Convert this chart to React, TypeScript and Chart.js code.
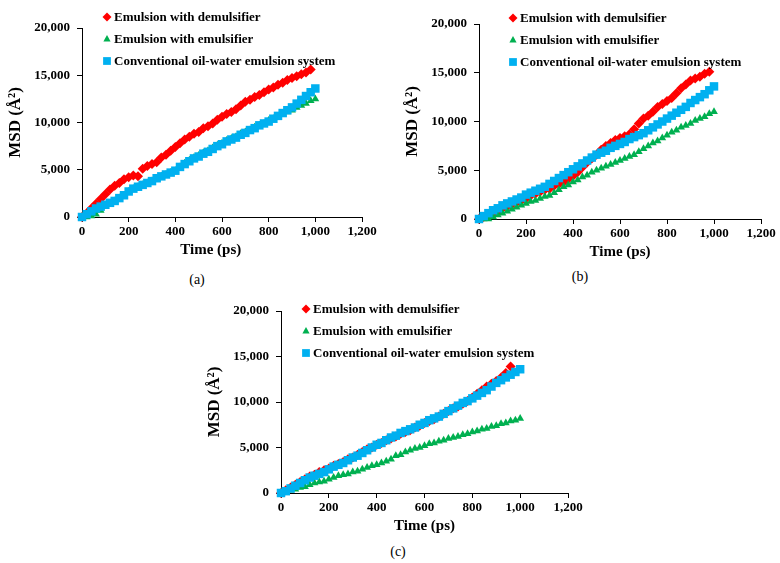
import React, { useEffect, useRef } from "react";
import { Chart, registerables } from "chart.js";

Chart.register(...registerables);

const TIME = [0, 20, 40, 60, 80, 100, 120, 140, 160, 180, 200, 220, 240, 260, 280, 300, 320, 340, 360, 380, 400, 420, 440, 460, 480, 500, 520, 540, 560, 580, 600, 620, 640, 660, 680, 700, 720, 740, 760, 780, 800, 820, 840, 860, 880, 900, 920, 940, 960, 980, 1000];

const SERIES_NAMES = ["Emulsion with demulsifier", "Emulsion with emulsifier", "Conventional oil-water emulsion system"];
const PANEL_LABELS = ["(a)", "(b)", "(c)"];
const X_TICKS = [0, 200, 400, 600, 800, 1000, 1200];
const Y_TICKS = [0, 5000, 10000, 15000, 20000];
const X_TITLE = "Time (ps)";
const Y_TITLE = "MSD (Å²)";

// Panel (a)
const A_DEMULSIFIER = [0, 400, 900, 1400, 1900, 2400, 2900, 3300, 3600, 4000, 4200, 4400, 4300, 5100, 5400, 5600, 5800, 6300, 6600, 7000, 7400, 7800, 8200, 8500, 8800, 9000, 9400, 9600, 9900, 10300, 10600, 10900, 11100, 11400, 11800, 12200, 12400, 12700, 12900, 13200, 13500, 13700, 14000, 14200, 14500, 14700, 14900, 15100, 15300, 15600];
const A_EMULSIFIER = [0, 0, 100, 300, 700, 1100, 1400, 1700, 2000, 2300, 2700, 3000, 3200, 3400, 3600, 3800, 4100, 4300, 4500, 4700, 4900, 5300, 5700, 6000, 6300, 6500, 6800, 7000, 7300, 7600, 7800, 8100, 8300, 8500, 8800, 9000, 9200, 9500, 9700, 9900, 10200, 10400, 10600, 10900, 11100, 11300, 11600, 11800, 12000, 12300, 12500];
const A_CONVENTIONAL = [0, 300, 600, 900, 1100, 1300, 1500, 1700, 2000, 2300, 2700, 3000, 3200, 3400, 3600, 3800, 4100, 4300, 4500, 4700, 4900, 5300, 5600, 5900, 6200, 6400, 6700, 6900, 7200, 7500, 7700, 8000, 8200, 8400, 8700, 8900, 9200, 9400, 9700, 9900, 10100, 10400, 10700, 11000, 11300, 11600, 12000, 12400, 12800, 13200, 13600];

// Panel (b)
const B_DEMULSIFIER = [0, 200, 400, 600, 800, 1100, 1300, 1500, 1700, 1900, 2100, 2400, 2600, 2800, 3000, 3100, 3400, 3600, 3800, 4100, 4400, 4800, 5300, 5800, 6200, 6600, 7100, 7500, 7800, 8100, 8300, 8500, 8700, 9200, 9800, 10300, 10600, 11000, 11500, 11800, 12100, 12400, 12900, 13400, 13800, 14200, 14400, 14600, 14900, 15100];
const B_EMULSIFIER = [0, 0, 0, 200, 400, 600, 800, 1000, 1200, 1400, 1600, 1800, 1900, 2100, 2300, 2400, 2700, 3000, 3300, 3500, 3800, 4000, 4300, 4500, 4800, 5000, 5200, 5400, 5600, 5800, 6000, 6200, 6400, 6600, 6900, 7200, 7500, 7800, 8000, 8300, 8600, 8900, 9100, 9400, 9600, 9800, 10100, 10300, 10500, 10800, 11000];
const B_CONVENTIONAL = [0, 300, 600, 900, 1100, 1400, 1600, 1800, 2000, 2200, 2500, 2700, 2900, 3100, 3300, 3600, 3900, 4200, 4500, 4800, 5100, 5400, 5700, 6000, 6300, 6600, 6800, 7000, 7300, 7500, 7700, 7900, 8200, 8400, 8600, 8800, 9100, 9400, 9700, 10000, 10300, 10600, 10900, 11200, 11500, 11900, 12200, 12500, 12800, 13200, 13600];

// Panel (c)
const C_DEMULSIFIER = [0, 300, 600, 900, 1200, 1500, 1800, 2000, 2300, 2500, 2700, 3000, 3200, 3400, 3700, 3900, 4200, 4500, 4800, 5000, 5300, 5500, 5800, 6000, 6200, 6500, 6700, 6900, 7200, 7400, 7700, 7900, 8100, 8400, 8700, 9000, 9300, 9500, 9800, 10100, 10500, 10900, 11300, 11700, 12000, 12300, 12700, 13200, 13900];
const C_EMULSIFIER = [0, 100, 300, 400, 600, 700, 900, 1100, 1200, 1300, 1500, 1700, 1900, 2000, 2100, 2300, 2400, 2600, 2800, 3000, 3100, 3300, 3500, 3700, 4100, 4200, 4500, 4700, 4900, 5000, 5200, 5400, 5500, 5700, 5800, 6000, 6100, 6200, 6400, 6500, 6700, 6800, 7000, 7100, 7300, 7400, 7600, 7700, 7900, 8000, 8200];
const C_CONVENTIONAL = [0, 200, 500, 800, 1100, 1400, 1700, 1900, 2100, 2300, 2600, 2900, 3100, 3300, 3600, 3900, 4100, 4400, 4700, 5000, 5300, 5500, 5800, 6100, 6300, 6600, 6800, 7000, 7200, 7500, 7700, 8000, 8200, 8400, 8700, 9000, 9300, 9600, 9900, 10100, 10400, 10700, 11000, 11300, 11700, 12100, 12400, 12700, 13000, 13300, 13600];

const COLORS = ["#FF0000", "#00B050", "#00B0F0"];
const SHAPES = ["rectRot", "triangle", "rect"];
const RADII = [5, 4.5, 6];

const FONT = '"Liberation Serif", "Times New Roman", serif';

type Panel = {
  data: number[][];
  label: string;
  left: number;
  top: number;
  width: number;
  height: number;
  padLeft: number;
  padTop: number;
  padRight: number;
  legendX: number;
  legendY: number;
  labelX: number;
  labelY: number;
  xTitlePad: number;
};

const PANELS: Panel[] = [
  { data: [A_DEMULSIFIER, A_EMULSIFIER, A_CONVENTIONAL], label: PANEL_LABELS[0], left: 0, top: 0, width: 390, height: 265, padLeft: 0, padTop: 28, padRight: 28, legendX: 107, legendY: 17, labelX: 197, labelY: 280, xTitlePad: 6 },
  { data: [B_DEMULSIFIER, B_EMULSIFIER, B_CONVENTIONAL], label: PANEL_LABELS[1], left: 390, top: 0, width: 390, height: 267, padLeft: 7, padTop: 24, padRight: 19, legendX: 123, legendY: 18, labelX: 580, labelY: 277, xTitlePad: 0 },
  { data: [C_DEMULSIFIER, C_EMULSIFIER, C_CONVENTIONAL], label: PANEL_LABELS[2], left: 190, top: 283, width: 400, height: 258, padLeft: 9, padTop: 28, padRight: 22, legendX: 116, legendY: 26, labelX: 398, labelY: 552, xTitlePad: 0 },
];

function drawMarker(ctx: CanvasRenderingContext2D, shape: string, x: number, y: number, r: number) {
  ctx.beginPath();
  if (shape === "rectRot") {
    ctx.moveTo(x - r, y);
    ctx.lineTo(x, y - r);
    ctx.lineTo(x + r, y);
    ctx.lineTo(x, y + r);
  } else if (shape === "triangle") {
    ctx.moveTo(x, y - r);
    ctx.lineTo(x + r * 0.9, y + r * 0.6);
    ctx.lineTo(x - r * 0.9, y + r * 0.6);
  } else {
    const s = r * Math.SQRT1_2;
    ctx.rect(x - s, y - s, 2 * s, 2 * s);
  }
  ctx.closePath();
  ctx.fill();
}

const legendPlugin = {
  id: "customLegend",
  afterDraw(chart: any, _args: any, opts: any) {
    const ctx: CanvasRenderingContext2D = chart.ctx;
    ctx.save();
    ctx.font = `bold 13px ${FONT}`;
    ctx.textBaseline = "middle";
    ctx.textAlign = "left";
    SERIES_NAMES.forEach((name, i) => {
      const y = opts.y + i * 22;
      ctx.fillStyle = COLORS[i];
      drawMarker(ctx, SHAPES[i], opts.x, y, RADII[i] - 0.5);
      ctx.fillStyle = "#000";
      ctx.fillText(name, opts.x + 7, y + 1);
    });
    ctx.restore();
  },
};

function PanelChart({ p }: { p: Panel }) {
  const ref = useRef<HTMLCanvasElement>(null);
  useEffect(() => {
    if (!ref.current) return;
    const datasets = p.data.map((vals, i) => ({
      label: SERIES_NAMES[i],
      data: vals.map((v, j) => ({ x: TIME[j], y: v })),
      showLine: false,
      backgroundColor: COLORS[i],
      borderColor: COLORS[i],
      pointStyle: SHAPES[i],
      pointRadius: RADII[i],
      pointBorderWidth: 0,
      pointHoverRadius: RADII[i],
      order: 3 - i,
      clip: false as any,
    }));
    const chart = new Chart(ref.current, {
      type: "scatter",
      data: { datasets },
      plugins: [legendPlugin],
      options: {
        animation: false,
        responsive: false,
        layout: { padding: { left: p.padLeft, top: p.padTop, right: p.padRight, bottom: 0 } },
        plugins: {
          legend: { display: false },
          tooltip: { enabled: false },
          customLegend: { x: p.legendX, y: p.legendY },
        } as any,
        scales: {
          x: {
            type: "linear",
            min: 0,
            max: 1200,
            afterBuildTicks: (s: any) => { s.ticks = X_TICKS.map((v) => ({ value: v })); },
            afterFit: (s: any) => { s.height = 48; },
            ticks: {
              color: "#000",
              padding: 2,
              maxRotation: 0,
              font: { family: FONT, size: 13, weight: "bold" },
              callback: (v: any) => Number(v).toLocaleString("en-US"),
            },
            grid: { display: true, drawOnChartArea: false, drawTicks: true, tickLength: 5, color: "#000" },
            border: { display: true, color: "#000", width: 1 },
            title: {
              display: true,
              text: X_TITLE + "\u00A0".repeat(p.xTitlePad),
              color: "#000",
              padding: { top: 0, bottom: 6 },
              font: { family: FONT, size: 15, weight: "bold" },
            },
          },
          y: {
            type: "linear",
            min: 0,
            max: 20000,
            afterBuildTicks: (s: any) => { s.ticks = Y_TICKS.map((v) => ({ value: v })); },
            afterFit: (s: any) => { s.width = 82; },
            ticks: {
              color: "#000",
              padding: 7,
              font: { family: FONT, size: 13, weight: "bold" },
              callback: (v: any) => Number(v).toLocaleString("en-US"),
            },
            grid: { display: true, drawOnChartArea: false, drawTicks: true, tickLength: 5, color: "#000" },
            border: { display: true, color: "#000", width: 1 },
            title: { display: true, text: Y_TITLE, color: "#000", padding: { top: 5, bottom: 0 }, font: { family: FONT, size: 17, weight: "bold" } },
          },
        },
      },
    } as any);
    return () => chart.destroy();
  }, [p]);
  return (
    <canvas
      ref={ref}
      width={p.width}
      height={p.height}
      style={{ position: "absolute", left: p.left, top: p.top, width: p.width, height: p.height }}
    />
  );
}

export default function App() {
  return (
    <div style={{ position: "absolute", left: 0, top: 0, width: 780, height: 563, background: "#fff", overflow: "hidden" }}>
      {PANELS.map((p, i) => (
        <React.Fragment key={i}>
          <PanelChart p={p} />
          <div
            style={{
              position: "absolute",
              left: p.labelX - 20,
              top: p.labelY - 9,
              width: 40,
              textAlign: "center",
              fontFamily: FONT,
              fontSize: 14,
              lineHeight: "18px",
              color: "#000",
            }}
          >
            {p.label}
          </div>
        </React.Fragment>
      ))}
    </div>
  );
}
